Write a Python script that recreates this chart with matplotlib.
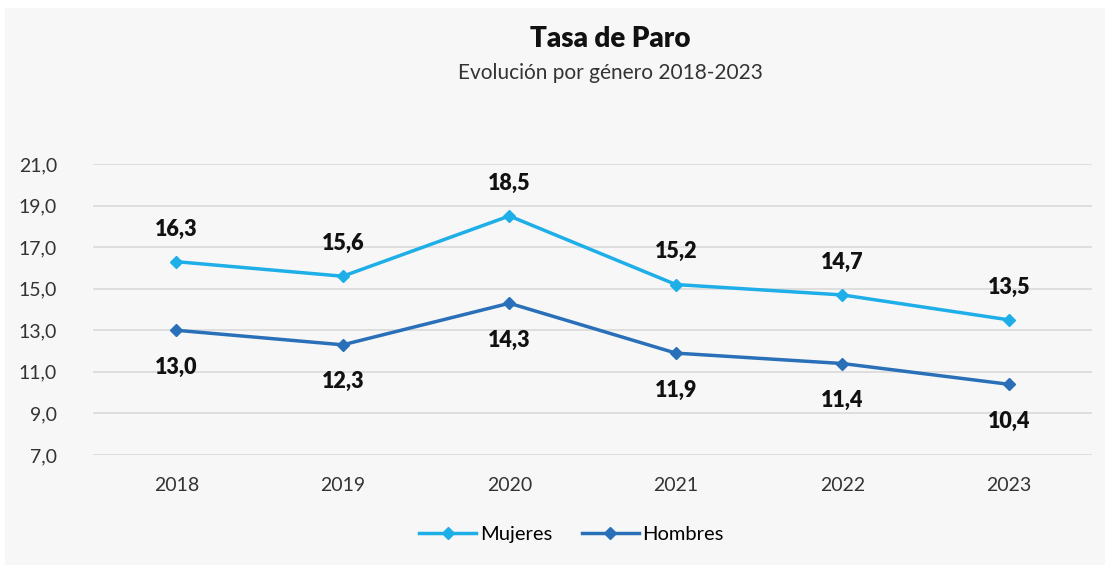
import matplotlib.pyplot as plt
from matplotlib.patches import Rectangle

# data
years = ['2018', '2019', '2020', '2021', '2022', '2023']
mujeres = [16.3, 15.6, 18.5, 15.2, 14.7, 13.5]
hombres = [13.0, 12.3, 14.3, 11.9, 11.4, 10.4]
yticks = [7, 9, 11, 13, 15, 17, 19, 21]

c_muj = '#1eaee8'
c_hom = '#2a70b8'
bg = '#f7f7f7'

plt.rcParams['font.family'] = ['Lato', 'DejaVu Sans']

fig = plt.figure(figsize=(11.1, 5.7), dpi=100, facecolor='white')
fig.patches.append(Rectangle((5/1110, 5/570), 1100/1110, 557/570,
                             transform=fig.transFigure, facecolor=bg,
                             edgecolor='none', zorder=-10))

ax = fig.add_axes([0.0838, 0.2018, 0.9002, 0.5105])
ax.set_facecolor(bg)
x = list(range(len(years)))

ax.plot(x, mujeres, color=c_muj, lw=2.5, marker='D', ms=6, label='Mujeres')
ax.plot(x, hombres, color=c_hom, lw=2.5, marker='D', ms=6, label='Hombres')

for xi, v in zip(x, mujeres):
    ax.annotate(f'{v:.1f}'.replace('.', ','), (xi, v), xytext=(0, 16),
                textcoords='offset points', ha='center', va='bottom',
                fontsize=15.5, fontweight='heavy', color='#111111')
for xi, v in zip(x, hombres):
    ax.annotate(f'{v:.1f}'.replace('.', ','), (xi, v), xytext=(0, -19),
                textcoords='offset points', ha='center', va='top',
                fontsize=15.5, fontweight='heavy', color='#111111')

ax.set_xlim(-0.5, len(years) - 0.5)
ax.set_ylim(7, 21)
ax.set_yticks(yticks)
ax.set_yticklabels([f'{t:.1f}'.replace('.', ',') for t in yticks])
ax.set_xticks(x)
ax.set_xticklabels(years)
ax.tick_params(length=0, labelsize=14, colors='#333333')
ax.tick_params(axis='y', pad=26)
ax.tick_params(axis='x', pad=16)
ax.grid(axis='y', color='#d9d9d9', lw=1.2)
ax.set_axisbelow(True)
for s in ax.spines.values():
    s.set_visible(False)

fig.text(0.55, 0.932, 'Tasa de Paro', ha='center', va='center',
         fontsize=20, fontweight='heavy', color='#111111')
fig.text(0.55, 0.872, 'Evolución por género 2018-2023', ha='center',
         va='center', fontsize=15, color='#333333')

fig.legend(loc='center', bbox_to_anchor=(0.515, 0.062), ncol=2,
           frameon=False, fontsize=14.5, handlelength=2.8, columnspacing=1.5,
           handletextpad=0.2)

fig.savefig('out.png', dpi=100, facecolor='white')
